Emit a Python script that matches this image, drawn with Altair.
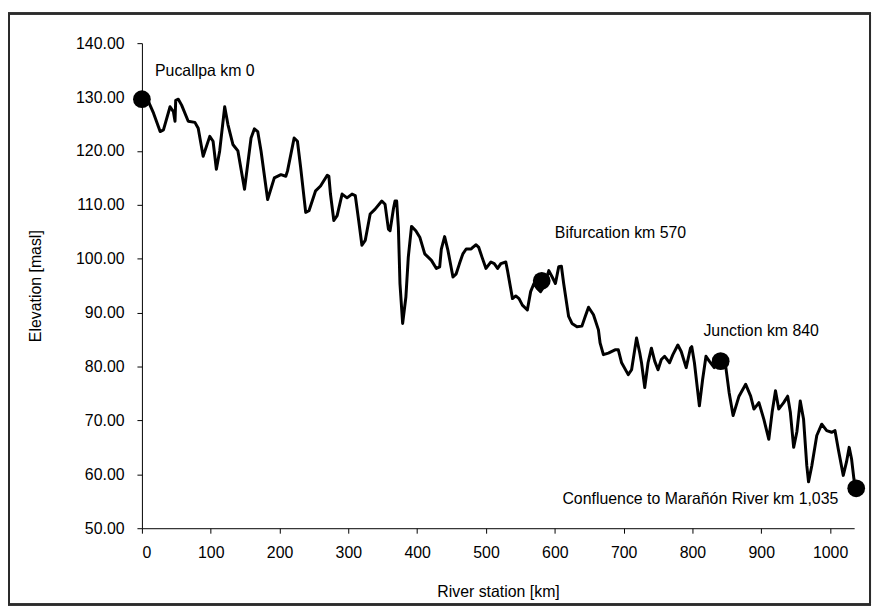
import altair as alt
import pandas as pd

# River profile (km, elevation in masl)
km = [0, 9.7, 16.9, 26.5, 31.3, 40.9, 45.7, 48.1, 49.1, 52.9, 57.7, 67.3, 77.0, 81.8, 89.0,
      98.6, 103.4, 108.2, 113.0, 120.3, 125.0, 132.2, 139.5, 149.1, 158.6, 163.5, 168.3,
      173.1, 182.7, 192.4, 202.0, 209.1, 211.6, 221.2, 226.0, 230.7, 238.0, 242.8, 252.4,
      259.6, 269.3, 271.7, 274.0, 278.9, 283.7, 290.9, 298.1, 305.3, 310.1, 315.0, 319.7,
      324.5, 331.7, 338.9, 348.6, 353.3, 358.2, 360.6, 365.4, 367.8, 370.2, 372.7, 375.0,
      378.9, 383.6, 387.1, 391.8, 398.0, 403.8, 411.0, 415.9, 420.7, 427.9, 432.7, 435.1,
      439.9, 444.8, 452.0, 456.7, 461.5, 466.4, 471.2, 478.4, 480.8, 485.6, 489.5, 494.2,
      500.0, 507.2, 512.0, 516.9, 521.6, 528.8, 531.3, 538.5, 543.3, 548.0, 552.9, 560.1,
      564.9, 569.7, 574.6, 579.3, 584.1, 591.3, 596.2, 600.9, 605.7, 609.6, 612.9, 620.1,
      625.0, 632.2, 639.4, 644.2, 649.0, 656.2, 663.4, 665.8, 670.6, 677.8, 687.5, 692.3,
      697.1, 706.7, 711.6, 718.8, 723.5, 726.0, 730.7, 735.5, 740.4, 745.2, 750.0, 754.8,
      759.6, 766.8, 771.6, 778.8, 783.7, 790.9, 797.1, 799.0, 802.9, 810.1, 814.8, 819.7,
      824.5, 831.7, 838.9, 848.6, 853.3, 859.1, 867.7, 877.4, 884.6, 889.4, 896.6, 903.8,
      911.0, 915.8, 920.7, 925.4, 932.6, 938.4, 942.3, 947.1, 951.8, 956.7, 961.5, 966.2,
      968.7, 973.5, 980.7, 987.9, 995.1, 1002.3, 1007.2, 1011.9, 1019.2, 1023.9, 1027.8,
      1031.2, 1034.6, 1037.0]
elev = [129.6, 129.1, 127.0, 123.6, 123.9, 128.2, 127.3, 125.5, 129.4, 129.6, 128.5, 125.5,
        125.3, 124.2, 119.0, 122.7, 121.8, 116.6, 120.0, 128.2, 124.9, 121.2, 120.0, 112.9,
        122.4, 124.1, 123.6, 120.0, 111.0, 115.0, 115.6, 115.3, 116.3, 122.4, 121.8, 116.9,
        108.6, 108.9, 112.6, 113.5, 115.5, 115.3, 112.0, 107.1, 108.0, 112.0, 111.3, 112.0,
        111.7, 107.1, 102.5, 103.4, 108.3, 109.2, 110.7, 110.1, 105.5, 105.2, 109.2, 110.7,
        110.7, 105.8, 95.4, 88.0, 92.9, 100.3, 106.0, 105.2, 104.0, 100.9, 100.3, 99.7, 98.2,
        98.5, 101.8, 104.1, 101.5, 96.6, 97.2, 99.1, 100.9, 101.8, 101.8, 102.1, 102.6, 102.1,
        100.3, 98.2, 99.4, 99.1, 98.2, 99.1, 99.4, 97.8, 92.6, 93.1, 92.6, 91.4, 90.5, 93.9,
        95.4, 94.5, 93.9, 94.8, 97.8, 96.6, 95.4, 98.5, 98.6, 95.4, 89.3, 88.0, 87.4, 87.5,
        89.3, 91.0, 89.6, 86.8, 84.4, 82.2, 82.5, 83.1, 83.1, 80.7, 78.5, 79.4, 85.3, 82.5,
        80.7, 76.1, 80.7, 83.4, 81.0, 79.4, 81.3, 81.9, 80.7, 82.2, 84.0, 82.8, 79.8, 83.4,
        83.7, 80.7, 72.7, 77.6, 81.9, 81.0, 79.8, 80.4, 79.8, 75.2, 70.9, 74.5, 76.7, 74.5,
        72.1, 73.3, 70.2, 66.5, 71.5, 75.5, 72.1, 73.3, 74.5, 71.5, 65.0, 67.9, 73.6, 70.2,
        61.6, 58.6, 61.6, 67.2, 69.3, 68.1, 67.8, 68.1, 64.7, 59.8, 62.3, 65.0, 62.9, 59.2,
        57.6]

# Key stations (markers)
mark_km = [0, 581, 841, 1038]
mark_elev = [129.6, 95.9, 81.0, 57.4]

# Annotations
lab_left_text = ["Pucallpa km 0", "Bifurcation km 570", "Junction km 840"]
lab_left_km = [19, 600, 816]
lab_left_elev = [134.8, 104.8, 86.6]
lab_right_text = ["Confluence to Marañón River km 1,035"]
lab_right_km = [1012]
lab_right_elev = [55.5]

x_ticks = [0, 100, 200, 300, 400, 500, 600, 700, 800, 900, 1000]
y_ticks = [50, 60, 70, 80, 90, 100, 110, 120, 130, 140]

W, H = 718, 489
FONT = "Liberation Sans"

profile = pd.DataFrame({"km": km, "elev": elev})
markers = pd.DataFrame({"km": mark_km, "elev": mark_elev})
left_labels = pd.DataFrame({"km": lab_left_km, "elev": lab_left_elev, "t": lab_left_text})
right_labels = pd.DataFrame({"km": lab_right_km, "elev": lab_right_elev, "t": lab_right_text})

xs = alt.Scale(domain=[0, 1035], nice=False, zero=False)
ys = alt.Scale(domain=[50, 140], nice=False, zero=False)

x_axis = alt.Axis(values=x_ticks, format="d", title="River station [km]", grid=False,
                  titleY=64, titleBaseline="middle", labelPadding=12)
y_axis = alt.Axis(values=y_ticks, format=".2f", title="Elevation [masl]", grid=False,
                  titleX=-107, titleY=H / 2, titleAlign="center", titleBaseline="middle",
                  labelPadding=13)

line = alt.Chart(profile).mark_line(color="black", strokeWidth=3, strokeJoin="round").encode(
    x=alt.X("km:Q", scale=xs, axis=x_axis),
    y=alt.Y("elev:Q", scale=ys, axis=y_axis),
    order="km:Q",
)

pts = alt.Chart(markers).mark_circle(color="black", opacity=1, size=320).encode(
    x=alt.X("km:Q", scale=xs), y=alt.Y("elev:Q", scale=ys)
)

tl = alt.Chart(left_labels).mark_text(align="left", baseline="middle", font=FONT,
                                       fontSize=16, color="black").encode(
    x=alt.X("km:Q", scale=xs), y=alt.Y("elev:Q", scale=ys), text="t:N"
)
tr = alt.Chart(right_labels).mark_text(align="right", baseline="middle", font=FONT,
                                        fontSize=16, color="black").encode(
    x=alt.X("km:Q", scale=xs), y=alt.Y("elev:Q", scale=ys), text="t:N"
)

frame = alt.Chart(markers).mark_rect(filled=False, stroke="#2b2b2b", strokeWidth=2).encode(
    x=alt.value(-134), x2=alt.value(734), y=alt.value(-30), y2=alt.value(566)
)

chart = alt.layer(line, pts, tl, tr, frame).properties(
    width=W, height=H,
    padding={"left": 135, "top": 33, "right": 18, "bottom": 79},
    autosize=alt.AutoSizeParams(type="none"),
    background="white",
).configure_view(stroke=None).configure_axis(
    grid=False, domainColor="black", tickColor="black", labelColor="black",
    titleColor="black", labelFont=FONT, titleFont=FONT, labelFontSize=16,
    titleFontSize=16, titleFontWeight="normal", tickSize=5, domainWidth=1, tickWidth=1,
)

chart.save("out.html", embed_options={"renderer": "svg", "actions": False})
